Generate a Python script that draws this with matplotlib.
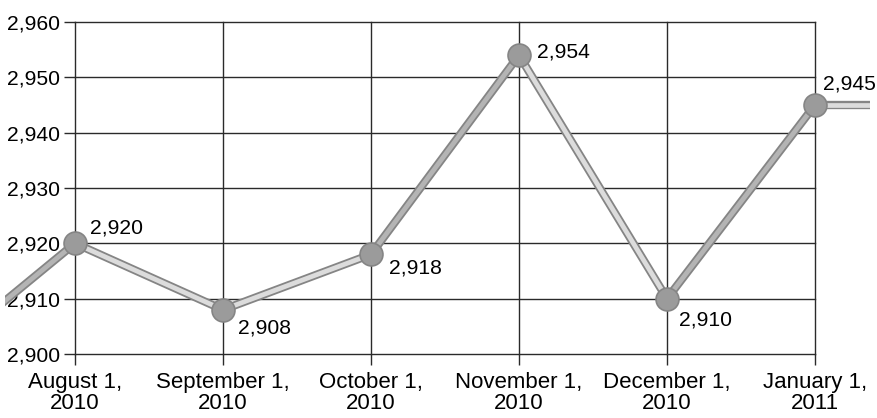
import matplotlib
matplotlib.use("Agg")
import matplotlib.pyplot as plt
from matplotlib.patches import Rectangle
from matplotlib.ticker import FuncFormatter

categories = ["August 1,\n2010", "September 1,\n2010", "October 1,\n2010",
              "November 1,\n2010", "December 1,\n2010", "January 1,\n2011"]
values = [2920, 2908, 2918, 2954, 2910, 2945]
prev_value = 2898   # value before the first shown point (line runs off the left edge)
next_value = 2945   # value after the last shown point (line runs off the right edge)
yticks = [2900, 2910, 2920, 2930, 2940, 2950, 2960]

# label offsets (points) relative to each marker
label_offsets = [(11, 11), (11, -13), (13, -10), (13, 2), (9, -15), (6, 15)]

plt.rcParams['font.family'] = ['Liberation Sans', 'DejaVu Sans']

W, H, DPI = 877, 418, 100
fig = plt.figure(figsize=(W / DPI, H / DPI), dpi=DPI)
ax = fig.add_axes([75 / W, (H - 354) / H, (815 - 75) / W, (354 - 22) / H])

n = len(values)
xs = list(range(n))
ax.set_xlim(0, n - 1)
ax.set_ylim(yticks[0], yticks[-1])

# grid
ax.set_yticks(yticks)
ax.set_xticks(xs)
ax.set_xticklabels(categories, fontsize=16, linespacing=1.0)
ax.yaxis.set_major_formatter(FuncFormatter(lambda v, p: f"{int(v):,}"))
for lbl in ax.get_yticklabels():
    lbl.set_fontsize(15.2)
ax.grid(True, color='#2a2a2a', linewidth=1.0)
for gl in ax.get_xgridlines() + ax.get_ygridlines():
    gl.set_clip_on(False)
ax.set_axisbelow(True)
for s in ax.spines.values():
    s.set_visible(False)
ax.tick_params(axis='both', length=8, width=1.0, color='#2a2a2a', direction='out')
ax.tick_params(axis='y', pad=3)
ax.tick_params(axis='x', pad=5)

# ribbon line
all_x = [-1] + xs + [n]
all_y = [prev_value] + values + [next_value]
clip = Rectangle((5 / W, 0), (870 - 5) / W, 1, transform=fig.transFigure, visible=False)
fig.add_artist(clip)

outline, = ax.plot(all_x, all_y, color='#858585', linewidth=6.0,
                   solid_joinstyle='miter', solid_capstyle='projecting', zorder=3,
                   clip_on=True)
outline.set_clip_path(clip)
for i in range(len(all_x) - 1):
    x0, x1 = all_x[i], all_x[i + 1]
    y0, y1 = all_y[i], all_y[i + 1]
    col = '#b4b4b4' if (y1 - y0) > 15 else '#dcdcdc'
    seg, = ax.plot([x0, x1], [y0, y1], color=col, linewidth=3.4,
                   solid_capstyle='butt', zorder=4)
    seg.set_clip_path(clip)

ax.plot(xs, values, linestyle='none', marker='o', markersize=16.5,
        markerfacecolor='#9b9b9b', markeredgecolor='#858585', markeredgewidth=1.2,
        zorder=5, clip_on=False)

for x, v, (dx, dy) in zip(xs, values, label_offsets):
    ax.annotate(f"{v:,}", (x, v), xytext=(dx, dy), textcoords='offset points',
                fontsize=15.2, ha='left', va='center', zorder=6,
                annotation_clip=False)

fig.savefig("out.png", dpi=DPI)
